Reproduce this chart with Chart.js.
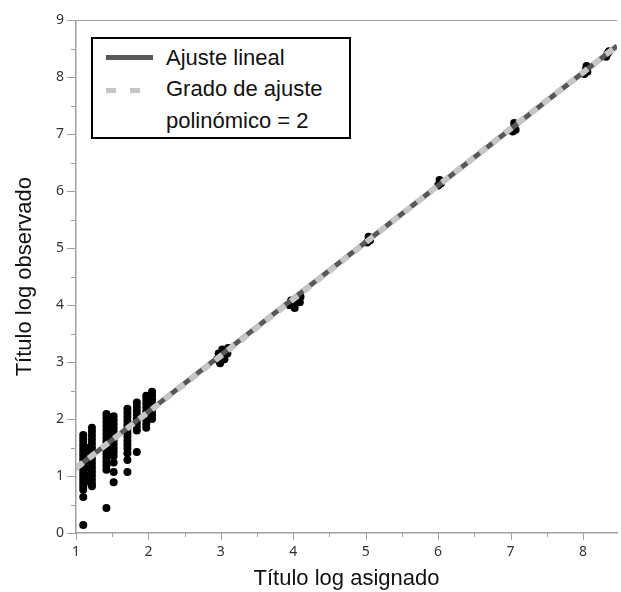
<!DOCTYPE html>
<html><head><meta charset="utf-8">
<script src="https://cdn.jsdelivr.net/npm/chart.js@4/dist/chart.umd.min.js"></script>
<style>
html,body{margin:0;padding:0;background:#fff;}
#wrap{position:relative;width:621px;height:592px;overflow:hidden;}
canvas{display:block;}
#legend{position:absolute;left:91px;top:37px;width:256px;height:98px;border:2px solid #000;background:#fff;font-family:"Liberation Sans",Arial,sans-serif;font-size:22px;color:#111;}
#legend .t{position:absolute;left:73px;white-space:nowrap;line-height:26px;}
#legend .s{position:absolute;left:13px;width:47px;height:5px;}
</style></head>
<body>
<div id="wrap">
<canvas id="c" width="621" height="592"></canvas>
<div id="legend">
  <div class="s" style="top:16px;background:#585858;"></div>
  <div class="t" style="top:6px;">Ajuste lineal</div>
  <div class="s" style="top:49px;background:repeating-linear-gradient(90deg,#c6c6c6 0 10px,transparent 10px 24px);"></div>
  <div class="t" style="top:37px;">Grado de ajuste</div>
  <div class="t" style="top:69px;">polinómico = 2</div>
</div>
</div>
<script>
// ---- data ----
const xTitle = 'Título log asignado';
const yTitle = 'Título log observado';
const xTickValues = [1, 2, 3, 4, 5, 6, 7, 8];
const yTickValues = [0, 1, 2, 3, 4, 5, 6, 7, 8, 9];
const xMinorTicks = [1.5, 2.5, 3.5, 4.5, 5.5, 6.5, 7.5, 8.5];
const yMinorTicks = [0.5, 1.5, 2.5, 3.5, 4.5, 5.5, 6.5, 7.5, 8.5];

const obsX = [
  1.10,1.10,1.10,1.10,1.10,1.10,1.10,1.10,1.10,1.10,1.10,1.10,1.10,1.10,1.10,1.10,1.10,1.10,1.10,
  1.13,1.13,1.13,1.13,1.13,1.13,
  1.22,1.22,1.22,1.22,1.22,1.22,1.22,1.22,1.22,1.22,1.22,1.22,1.22,1.22,1.22,1.22,
  1.42,1.42,1.42,1.42,1.42,1.42,1.42,1.42,1.42,1.42,1.42,1.42,1.42,1.42,1.42,1.42,
  1.52,1.52,1.52,1.52,1.52,1.52,1.52,1.52,1.52,1.52,1.52,1.52,1.52,1.52,
  1.71,1.71,1.71,1.71,1.71,1.71,1.71,1.71,1.71,1.71,1.71,1.71,1.71,1.71,
  1.84,1.84,1.84,1.84,1.84,1.84,1.84,1.84,1.84,
  1.97,1.97,1.97,1.97,1.97,1.97,1.97,1.97,1.97,
  2.05,2.05,2.05,2.05,2.05,2.05,2.05,2.05,
  2.95,2.97,3.02,3.05,3.09,3.10,2.99,
  3.95,3.97,4.02,4.05,4.09,4.10,4.00,
  5.02,5.04,5.06,
  6.00,6.02,6.04,
  7.03,7.05,7.05,7.07,
  8.02,8.04,8.05,8.06,
  8.32,8.34,8.36
];
const obsY = [
  1.72,1.66,1.60,1.54,1.48,1.42,1.36,1.30,1.24,1.18,1.12,1.06,1.00,0.94,0.88,0.82,0.76,0.63,0.14,
  1.50,1.38,1.26,1.14,1.02,0.90,
  1.85,1.78,1.71,1.64,1.57,1.50,1.43,1.36,1.29,1.22,1.15,1.08,1.01,0.94,0.87,0.82,
  2.09,2.02,1.95,1.88,1.81,1.74,1.67,1.60,1.53,1.46,1.39,1.32,1.25,1.18,1.11,0.44,
  2.05,1.98,1.91,1.84,1.77,1.70,1.63,1.56,1.49,1.42,1.35,1.24,1.07,0.89,
  2.18,2.11,2.04,1.97,1.90,1.83,1.76,1.69,1.62,1.55,1.48,1.40,1.28,1.07,
  2.29,2.22,2.15,2.08,2.01,1.94,1.87,1.80,1.42,
  2.41,2.34,2.27,2.20,2.13,2.06,1.99,1.92,1.85,
  2.48,2.42,2.35,2.28,2.21,2.14,2.07,2.00,
  3.05,3.15,3.22,3.05,3.15,3.25,2.98,
  4.00,4.08,3.95,4.12,4.05,4.15,4.05,
  5.10,5.20,5.14,
  6.10,6.20,6.14,
  7.05,7.12,7.20,7.08,
  8.06,8.14,8.20,8.10,
  8.36,8.42,8.46
];
const linX = [1, 8.47];
const linY = [1.14, 8.55];
const polyX = [1, 3, 5, 7, 8.47];
const polyY = [1.14, 3.11, 5.10, 7.10, 8.55];

const pts = (xs, ys) => xs.map((x, i) => ({x, y: ys[i]}));

const axisColor = '#a0a0a0';
const tickPlugin = {
  id: 'minorTicks',
  afterDraw(chart) {
    const ctx = chart.ctx, xs = chart.scales.x, ys = chart.scales.y, a = chart.chartArea;
    ctx.save();
    ctx.strokeStyle = axisColor;
    ctx.lineWidth = 1;
    const seg = (x1, y1, x2, y2) => { ctx.beginPath(); ctx.moveTo(x1, y1); ctx.lineTo(x2, y2); ctx.stroke(); };
    xTickValues.forEach(v => { const p = Math.round(xs.getPixelForValue(v)) + 0.5; seg(p, a.bottom, p, a.bottom + 7); });
    xMinorTicks.forEach(v => { const p = Math.round(xs.getPixelForValue(v)) + 0.5; if (p <= a.right) seg(p, a.bottom, p, a.bottom + 4); });
    yTickValues.forEach(v => { const p = Math.round(ys.getPixelForValue(v)) + 0.5; seg(a.left - 9, p, a.left, p); });
    yMinorTicks.forEach(v => { const p = Math.round(ys.getPixelForValue(v)) + 0.5; seg(a.left - 5, p, a.left, p); });
    // top frame
    seg(a.left, Math.round(a.top) + 0.5, a.right, Math.round(a.top) + 0.5);
    ctx.restore();
  }
};

new Chart(document.getElementById('c'), {
  type: 'scatter',
  data: {
    datasets: [
      { label: 'Grado de ajuste polinómico = 2', data: pts(polyX, polyY), showLine: true, borderColor: '#c6c6c6', borderWidth: 6, borderDash: [9, 7], pointRadius: 0, order: 0, tension: 0, borderCapStyle: 'butt' },
      { label: 'Ajuste lineal', data: pts(linX, linY), showLine: true, borderColor: '#585858', borderWidth: 5, pointRadius: 0, order: 1, tension: 0 },
      { label: 'obs', data: pts(obsX, obsY), backgroundColor: '#000', borderColor: '#000', borderWidth: 0, pointRadius: 4, order: 2 }
    ]
  },
  options: {
    responsive: false, animation: false, devicePixelRatio: 1,
    layout: { padding: { top: 19, right: 0, left: 0, bottom: 0 } },
    plugins: { legend: { display: false }, tooltip: { enabled: false } },
    scales: {
      x: {
        type: 'linear', min: 1, max: 8.47,
        afterBuildTicks: s => { s.ticks = xTickValues.map(v => ({value: v})); },
        afterFit: s => { s.height = 59; },
        grid: { display: false, drawTicks: false },
        border: { display: true, color: axisColor, width: 1.5 },
        ticks: { padding: 11, color: '#333', maxRotation: 0, font: { family: 'Noto Sans', size: 14 }, callback: v => String(v) },
        title: { display: true, text: xTitle, color: '#111', font: { family: 'Liberation Sans', size: 22 }, padding: { top: 0, bottom: 0 } }
      },
      y: {
        type: 'linear', min: 0, max: 9,
        afterBuildTicks: s => { s.ticks = yTickValues.map(v => ({value: v})); },
        afterFit: s => { s.width = 76; },
        grid: { display: false, drawTicks: false },
        border: { display: true, color: axisColor, width: 1.5 },
        ticks: { padding: 12, color: '#333', font: { family: 'Noto Sans', size: 14 }, callback: v => String(v) },
        title: { display: true, text: yTitle, color: '#111', font: { family: 'Liberation Sans', size: 22 }, padding: { top: 12, bottom: 0 } }
      }
    }
  },
  plugins: [tickPlugin]
});
</script>
</body></html>
